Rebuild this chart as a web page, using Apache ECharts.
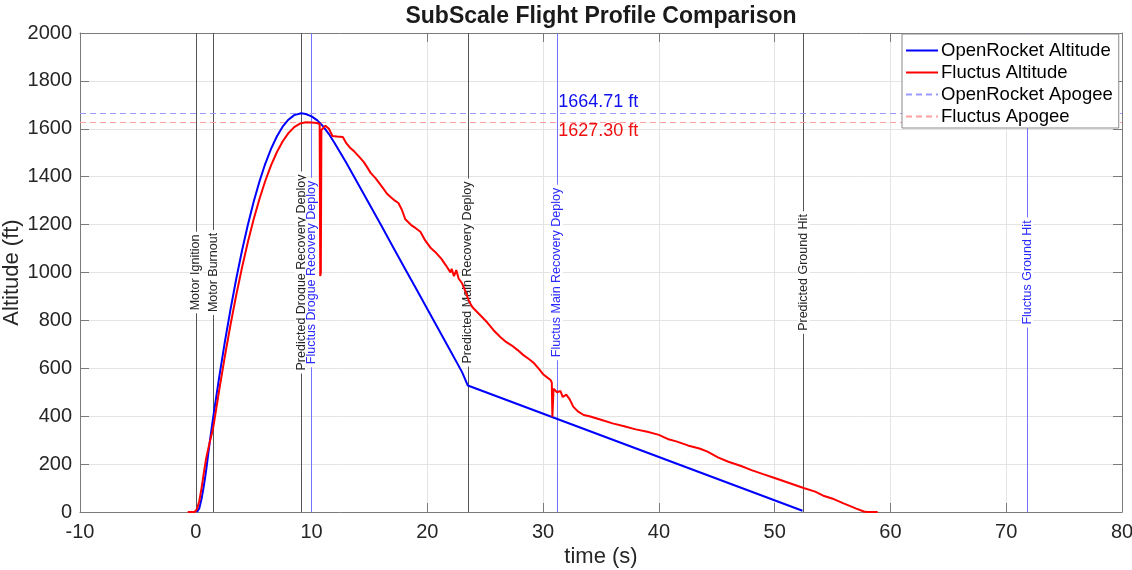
<!DOCTYPE html>
<html><head><meta charset="utf-8">
<script src="https://cdn.jsdelivr.net/npm/echarts@6/dist/echarts.min.js"></script>
<style>html,body{margin:0;padding:0;background:#fff}#c{width:1132px;height:570px}</style>
</head><body><div id="c"></div>
<script>
// ---- data ----
const orTime = [0.1,0.3,0.5,0.7,0.9,1.2,1.5,2.0,2.5,3.0,3.5,4.0,4.5,5.0,5.5,6.0,6.5,7.0,7.5,8.0,8.5,9.1,9.5,10,10.5,11,11.5,12,13,14,15,16,17,18,19,20,21,22,23,23.5,52.4];
const orAlt  = [0,15,55,110,175,290,394,556,707,846,975,1093,1199,1295,1380,1454,1516,1568,1609,1638,1657,1664.71,1662,1652,1635,1610,1578,1540,1458,1372,1285,1198,1110,1022,935,848,760,672,584,528,5];

const flTime = [-0.7,-0.1,0.1,0.3,0.5,0.7,0.9,1.2,1.5,2.0,2.5,3.0,3.5,4.0,4.5,5.0,5.5,6.0,6.5,7.0,7.5,8.0,8.5,9.0,9.5,10.0,10.45,10.7,10.75,10.8,10.85,11.0,11.2,11.5,11.8,12.2,12.7,13.0,13.3,13.7,14.1,14.5,14.8,15.1,15.5,15.8,16.2,16.5,16.8,17.2,17.5,17.8,18.1,18.6,19.0,19.4,19.8,20.3,20.7,21.2,21.6,21.8,22.0,22.1,22.3,22.5,22.7,23.0,23.3,23.6,23.9,24.3,24.7,25.2,25.7,26.3,26.8,27.3,27.8,28.3,28.8,29.2,29.6,30.05,30.4,30.65,30.75,30.8,30.85,30.9,31.0,31.2,31.5,31.7,32.0,32.3,32.6,33.0,33.5,34,35,36,37,38,39,40,40.75,41.5,42.5,43.5,44.2,45.1,46,47.1,48,49,50,51,52.5,53.5,54.2,55.1,56,57,57.7,58,58.9];
const flAlt  = [0,0,12,45,100,165,225,290,350,502,647,782,907,1022,1127,1222,1307,1382,1447,1502,1547,1582,1607,1622,1627.30,1626,1624,1620,985,1000,1595,1602,1613,1600,1570,1568,1566,1540,1522,1505,1484,1462,1440,1416,1395,1376,1350,1330,1316,1300,1290,1262,1222,1198,1185,1170,1135,1102,1085,1058,1030,1015,1000,1015,985,1010,975,955,920,880,855,835,815,790,760,731,710,695,676,655,638,622,600,573,560,551,540,397,397,515,520,500,505,480,490,470,440,420,405,400,385,370,358,345,335,322,305,295,278,265,252,228,210,192,175,158,142,125,100,85,68,54,35,15,2,0,0];

const eventTime   = [0, 1.5, 9.1, 10.0, 23.5, 31.2, 52.5, 71.8];
const eventName   = ['Motor Ignition','Motor Burnout','Predicted Drogue Recovery Deploy','Fluctus Drogue Recovery Deploy','Predicted Main Recovery Deploy','Fluctus Main Recovery Deploy','Predicted Ground Hit','Fluctus Ground Hit'];
const eventSource = ['model','model','model','fluctus','model','fluctus','model','fluctus'];

const apogeeName  = ['OpenRocket Apogee','Fluctus Apogee'];
const apogeeValue = [1664.71, 1627.30];
const apogeeLabelTime = 31.3;

const xMin = -10, xMax = 80, xStep = 10;
const yMin = 0, yMax = 2000, yStep = 200;

// ---- styles ----
const FONT = 'Liberation Sans, Arial, Helvetica, sans-serif';
const eventStyle = {
  model:   {line: '#555555', text: '#262626'},
  fluctus: {line: '#7373ff', text: '#2a2aff'}
};
const apogeeStyle = [
  {line: '#9a9aff', text: '#1010ee', offset: [0, -11]},
  {line: '#ff9f9f', text: '#ee1010', offset: [0, 9]}
];

const zip = (a, b) => a.map((v, i) => [v, b[i]]);

const chart = echarts.init(document.getElementById('c'), null, {renderer: 'canvas'});

const axisCommon = {
  axisLine: {show: true, onZero: false, lineStyle: {color: '#7a7a7a', width: 1}},
  axisTick: {show: true, inside: true, length: 9, lineStyle: {color: '#7a7a7a'}},
};

const series = [
  {
    name: 'events', type: 'line', data: [], z: 1, zlevel: 0, silent: true,
    xAxisIndex: 0, yAxisIndex: 0,
    markLine: {
      z: 1,
      symbol: ['none', 'none'], silent: true, animation: false,
      data: eventTime.map((t, i) => ({
        xAxis: t,
        lineStyle: {color: eventStyle[eventSource[i]].line, width: 1, type: 'solid'},
        label: {
          show: true, position: 'insideMiddle', formatter: eventName[i],
          color: eventStyle[eventSource[i]].text, fontFamily: FONT, fontSize: 12.5,
          lineHeight: 12, backgroundColor: '#ffffff', padding: [0, 3, 0, 3], distance: 0
        }
      }))
    }
  },
  {
    name: 'OpenRocket Altitude', type: 'line', data: zip(orTime, orAlt), z: 3, zlevel: 1,
    symbol: 'none', showSymbol: false, smooth: false,
    lineStyle: {color: '#0000ff', width: 2}, itemStyle: {color: '#0000ff'}
  },
  {
    name: 'Fluctus Altitude', type: 'line', data: zip(flTime, flAlt), z: 3, zlevel: 1,
    symbol: 'none', showSymbol: false, smooth: false,
    lineStyle: {color: '#ff0000', width: 2}, itemStyle: {color: '#ff0000'}
  }
];
apogeeName.forEach((n, i) => {
  const ls = {color: apogeeStyle[i].line, width: 1, type: [6, 4]};
  series.push({
    name: n, type: 'line', data: [], z: 2, symbol: 'none',
    lineStyle: ls,
    itemStyle: {color: apogeeStyle[i].line},
    markLine: {
      z: 2,
      symbol: ['none', 'none'], silent: true, animation: false,
      label: {show: false},
      lineStyle: ls,
      data: [{yAxis: apogeeValue[i], lineStyle: ls}]
    },
    markPoint: {
      z: 2,
      symbol: 'circle', symbolSize: 0, silent: true, animation: false,
      data: [{coord: [apogeeLabelTime, apogeeValue[i]], value: apogeeValue[i]}],
      label: {
        show: true, position: 'right', distance: 0, offset: apogeeStyle[i].offset,
        formatter: p => p.value.toFixed(2) + ' ft',
        color: apogeeStyle[i].text, fontFamily: FONT, fontSize: 18
      }
    }
  });
});

chart.setOption({
  animation: false,
  backgroundColor: '#ffffff',
  title: {
    text: 'SubScale Flight Profile Comparison', left: 601, textAlign: 'center', top: 5, padding: 0,
    textStyle: {fontFamily: FONT, fontSize: 23, fontWeight: 'bold', color: '#1a1a1a'}
  },
  legend: {
    data: ['OpenRocket Altitude', 'Fluctus Altitude', 'OpenRocket Apogee', 'Fluctus Apogee'],
    orient: 'vertical', left: 902, top: 34, z: 10,
    itemWidth: 32, itemHeight: 14, itemGap: 3,
    padding: [7, 6, 2, 3],
    itemStyle: {opacity: 0},
    backgroundColor: '#ffffff', borderColor: '#8a8a8a', borderWidth: 1, borderRadius: 0,
    textStyle: {fontFamily: FONT, fontSize: 18.5, lineHeight: 18, color: '#000000', padding: [0, 0, 0, -2]},
    selectedMode: false
  },
  grid: {left: 80, right: 10, top: 33, bottom: 58, containLabel: false, outerBoundsMode: 'none'},
  xAxis: [
    Object.assign({
      type: 'value', min: xMin, max: xMax, interval: xStep, position: 'bottom',
      name: 'time (s)', nameLocation: 'middle', nameGap: 34, nameMoveOverlap: false,
      nameTextStyle: {fontFamily: FONT, fontSize: 22, color: '#262626'},
      axisLabel: {fontFamily: FONT, fontSize: 20, color: '#262626', margin: 10, formatter: v => String(v)},
      splitLine: {show: true, lineStyle: {color: '#e4e4e4', width: 1}}
    }, axisCommon),
    Object.assign({
      type: 'value', min: xMin, max: xMax, interval: xStep, position: 'top',
      axisLabel: {show: false}, splitLine: {show: false}
    }, axisCommon)
  ],
  yAxis: [
    Object.assign({
      type: 'value', min: yMin, max: yMax, interval: yStep, position: 'left',
      name: 'Altitude (ft)', nameLocation: 'middle', nameGap: 57, nameRotate: 90, nameMoveOverlap: false,
      nameTextStyle: {fontFamily: FONT, fontSize: 22, color: '#262626'},
      axisLabel: {fontFamily: FONT, fontSize: 20, color: '#262626', margin: 8, formatter: v => String(v)},
      splitLine: {show: true, lineStyle: {color: '#e4e4e4', width: 1}}
    }, axisCommon),
    Object.assign({
      type: 'value', min: yMin, max: yMax, interval: yStep, position: 'right',
      axisLabel: {show: false}, splitLine: {show: false}
    }, axisCommon)
  ],
  series: series
});
</script></body></html>
